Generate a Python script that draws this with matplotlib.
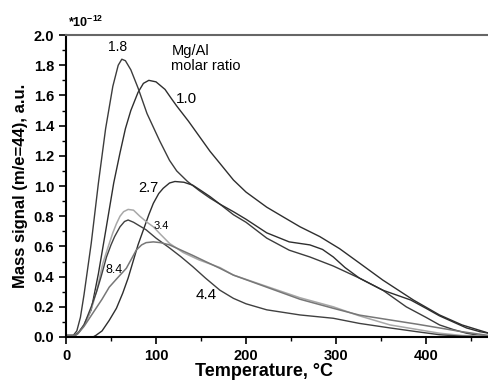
import matplotlib.pyplot as plt
from matplotlib.ticker import MultipleLocator

plt.rcParams['font.family'] = ['Liberation Sans', 'DejaVu Sans']

# temperature (C) / signal (x1e-12)
t_10 = [0, 10, 14, 20, 28, 36, 44, 53, 60, 66, 72, 80, 86, 92, 100, 110, 117, 123, 136, 148,
        160, 171, 186, 200, 223, 240, 260, 282, 304, 326, 352, 386, 415, 440, 452, 470]
v_10 = [0.01, 0.01, 0.03, 0.08, 0.18, 0.42, 0.70, 1.02, 1.22, 1.38, 1.50, 1.62, 1.68, 1.70,
        1.69, 1.64, 1.58, 1.53, 1.43, 1.33, 1.23, 1.15, 1.04, 0.96, 0.86, 0.80, 0.73, 0.665,
        0.585, 0.49, 0.377, 0.245, 0.146, 0.08, 0.058, 0.025]

t_18 = [0, 8, 12, 16, 20, 28, 36, 44, 52, 58, 62, 66, 72, 80, 90, 104, 115, 123, 135, 148,
        160, 171, 186, 200, 223, 248, 271, 297, 326, 352, 378, 400, 415, 430, 445, 460, 470]
v_18 = [0.01, 0.01, 0.04, 0.13, 0.28, 0.62, 1.02, 1.38, 1.66, 1.80, 1.84, 1.83, 1.77, 1.65,
        1.48, 1.30, 1.17, 1.10, 1.03, 0.97, 0.92, 0.88, 0.81, 0.76, 0.655, 0.575, 0.53, 0.47,
        0.39, 0.31, 0.20, 0.13, 0.08, 0.05, 0.025, 0.01, 0.005]

t_27 = [0, 30, 33, 40, 48, 56, 63, 69, 74, 80, 86, 92, 97, 103, 108, 115, 121, 131, 141, 150,
        160, 171, 186, 200, 223, 248, 271, 285, 297, 310, 326, 352, 383, 400, 415, 430, 445,
        460, 470]
v_27 = [0.0, 0.0, 0.01, 0.04, 0.11, 0.19, 0.29, 0.39, 0.49, 0.61, 0.71, 0.81, 0.885, 0.95,
        0.985, 1.02, 1.03, 1.025, 1.005, 0.97, 0.93, 0.88, 0.83, 0.78, 0.69, 0.63, 0.61, 0.58,
        0.53, 0.46, 0.39, 0.31, 0.245, 0.19, 0.14, 0.10, 0.06, 0.035, 0.025]

t_34 = [0, 10, 14, 20, 25, 30, 35, 41, 47, 52, 56, 60, 64, 69, 75, 82, 90, 97, 105, 115, 130,
        148, 171, 186, 223, 260, 297, 326, 360, 390, 415, 440, 470]
v_34 = [0.01, 0.01, 0.03, 0.08, 0.14, 0.22, 0.33, 0.49, 0.60, 0.69, 0.75, 0.80, 0.83, 0.845,
        0.84, 0.80, 0.76, 0.73, 0.68, 0.62, 0.56, 0.51, 0.46, 0.41, 0.335, 0.26, 0.20, 0.14,
        0.08, 0.05, 0.025, 0.01, 0.005]

t_44 = [0, 10, 14, 20, 28, 34, 39, 45, 50, 54, 60, 65, 69, 75, 82, 89, 100, 115, 128, 141,
        155, 171, 186, 200, 223, 260, 297, 326, 360, 390, 415, 440, 470]
v_44 = [0.01, 0.01, 0.03, 0.08, 0.20, 0.30, 0.40, 0.53, 0.61, 0.665, 0.73, 0.765, 0.775,
        0.76, 0.735, 0.71, 0.655, 0.59, 0.53, 0.465, 0.39, 0.31, 0.256, 0.22, 0.18, 0.146,
        0.124, 0.09, 0.06, 0.035, 0.015, 0.005, 0.0]

t_84 = [0, 10, 13, 20, 30, 40, 48, 57, 67, 73, 78, 84, 89, 97, 105, 115, 128, 141, 155, 171,
        186, 223, 260, 297, 326, 360, 390, 415, 440, 470]
v_84 = [0.01, 0.01, 0.02, 0.07, 0.16, 0.25, 0.33, 0.39, 0.455, 0.52, 0.575, 0.61, 0.625,
        0.63, 0.625, 0.61, 0.575, 0.54, 0.50, 0.455, 0.41, 0.33, 0.25, 0.19, 0.145, 0.113,
        0.085, 0.06, 0.035, 0.01]

fig = plt.figure(figsize=(4.89, 3.81), dpi=100)
ax = fig.add_axes([0.135, 0.1155, 0.865, 0.7925])

ax.plot(t_10, v_10, color='#2e2e2e', lw=1.0)
ax.plot(t_18, v_18, color='#3c3c3c', lw=1.0)
ax.plot(t_27, v_27, color='#2e2e2e', lw=1.0)
ax.plot(t_34, v_34, color='#a8a8a8', lw=1.1)
ax.plot(t_44, v_44, color='#404040', lw=1.0)
ax.plot(t_84, v_84, color='#777777', lw=1.1)

ax.text(57, 1.92, '1.8', fontsize=10, ha='center', va='center')
ax.text(117, 1.94, 'Mg/Al\nmolar ratio', fontsize=10.5, ha='left', va='top', linespacing=1.05)
ax.text(134, 1.575, '1.0', fontsize=11, ha='center', va='center')
ax.text(91, 0.99, '2.7', fontsize=10.5, ha='center', va='center')
ax.text(106, 0.735, '3.4', fontsize=8, ha='center', va='center')
ax.text(53, 0.445, '8.4', fontsize=9, ha='center', va='center')
ax.text(156, 0.28, '4.4', fontsize=11, ha='center', va='center')

ax.text(0.005, 1.027, r'*10$^{\mathregular{-12}}$', transform=ax.transAxes,
        fontsize=9, fontweight='bold', ha='left', va='baseline')

ax.set_xlim(0, 470)
ax.set_ylim(0, 2.0)
ax.xaxis.set_major_locator(MultipleLocator(100))
ax.xaxis.set_minor_locator(MultipleLocator(50))
ax.yaxis.set_major_locator(MultipleLocator(0.2))
ax.yaxis.set_minor_locator(MultipleLocator(0.1))
ax.tick_params(which='major', direction='out', length=5, width=1.2, labelsize=10.5)
ax.tick_params(which='minor', direction='out', length=3, width=1.0)
ax.yaxis.set_major_formatter(plt.FormatStrFormatter('%.1f'))
for lab in ax.get_xticklabels() + ax.get_yticklabels():
    lab.set_fontweight('bold')

ax.spines['right'].set_visible(False)
ax.spines['top'].set_color('#666666')
ax.spines['top'].set_linewidth(1.5)
ax.spines['left'].set_linewidth(1.5)
ax.spines['bottom'].set_linewidth(1.5)

ax.set_xlabel('Temperature, °C', fontsize=13, fontweight='bold')
ax.xaxis.set_label_coords(0.468, -0.085)
ax.set_ylabel('Mass signal (m/e=44), a.u.', fontsize=12, fontweight='bold', labelpad=4)

fig.savefig('out.png', dpi=100)
